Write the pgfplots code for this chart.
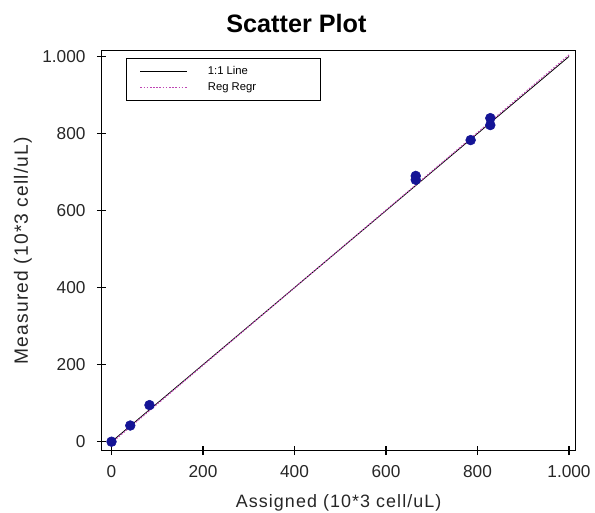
\documentclass[border=0pt]{standalone}
\usepackage{pgfplots}
\pgfplotsset{compat=1.18}
\usepackage{fontspec}
\setmainfont{Liberation Sans}
\newfontfamily\labelfont[LetterSpace=6]{Liberation Sans}

\definecolor{ptblue}{RGB}{20,20,150}
\definecolor{regpurple}{RGB}{190,70,180}

\begin{document}
\begin{tikzpicture}
\begin{axis}[
    name=main,
    scale only axis,
    width=357.75pt,
    height=301.5pt,
    xmin=-22, xmax=1015,
    ymin=-23, ymax=1015,
    xtick={0,200,400,600,800,1000},
    ytick={0,200,400,600,800,1000},
    /pgf/number format/.cd, 1000 sep={.}, assume math mode=true,
    /pgfplots/.cd,
    tick align=center,
    major tick length=7pt,
    xtick pos=bottom,
    ytick pos=left,
    tick style={black, line width=0.9pt},
    axis line style={black, line width=0.9pt},
    tick label style={font=\fontsize{13}{14}\selectfont, color=black!85},
    xticklabel style={yshift=-4.5pt},
    yticklabel style={xshift=-5pt},
    title={\textbf{Scatter Plot}},
    title style={font=\fontsize{19}{21}\selectfont, at={(0.411,1)}, anchor=base, yshift=7.5pt},
    xlabel={Assigned (10*3 cell/uL)},
    ylabel={Measured (10*3 cell/uL)},
    label style={font=\labelfont\fontsize{13.5}{15}\selectfont, color=black!85},
    xlabel style={at={(0.5,0)}, anchor=base, inner sep=0pt, yshift=-42.75pt},
    ylabel style={at={(-0.1551,0.5)}, anchor=base, font=\labelfont\fontsize{14.5}{16}\selectfont},
    legend style={at={(0.052,0.982)}, anchor=north west,
                  font=\fontsize{8.5}{9}\selectfont, draw=black, line width=0.7pt,
                  inner xsep=2pt, inner ysep=4pt, row sep=0.5pt},
    legend cell align=left,
    legend image code/.code={\path (0pt,0pt); \draw[#1] (8pt,0pt) -- (43pt,0pt);},
    clip=false,
]

% 1:1 Line
\addplot[black, line width=0.6pt] coordinates {(0,0) (1000,1000)};
\addlegendentry{\hspace*{13.5pt}\makebox[81pt][l]{1:1 Line}}

% Reg Regr
\addplot[regpurple, line width=0.8pt, dash pattern=on 1.2pt off 1.2pt] coordinates {(0,-3) (1000,1004)};
\addlegendentry{\hspace*{13.5pt}\makebox[81pt][l]{Reg Regr}}

% data points
\addplot[only marks, mark=*, mark size=3.7pt, color=ptblue, forget plot] coordinates {
    (0,0)
    (41,42)
    (83,95)
    (665,690)
    (665,680)
    (785,783)
    (828,840)
    (828,822)
};

\end{axis}
% page margins of the reference
\path (main.south west) ++(-76.5pt,-46.5pt);
\path (main.north east) ++(12pt,38.25pt);
\end{tikzpicture}
\end{document}
